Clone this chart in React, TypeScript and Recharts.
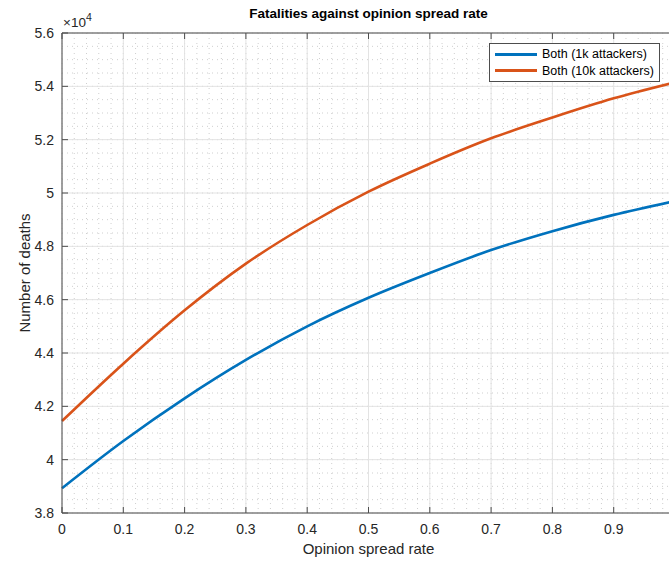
import React from "react";
import { LineChart, Line, XAxis, YAxis, CartesianGrid } from "recharts";

// opinion spread rate samples
const spreadRate = [0, 0.1, 0.2, 0.3, 0.4, 0.5, 0.6, 0.7, 0.8, 0.9, 1.0];
// number of deaths
const deaths1k = [38930, 40700, 42300, 43740, 45000, 46070, 47000, 47860, 48570, 49180, 49700];
const deaths10k = [41450, 43600, 45600, 47350, 48800, 50050, 51100, 52050, 52830, 53550, 54150];

const seriesNames = ["Both (1k attackers)", "Both (10k attackers)"];
const seriesColors = ["#0072BD", "#D95319"];

const xTicks = [0, 0.1, 0.2, 0.3, 0.4, 0.5, 0.6, 0.7, 0.8, 0.9, 1];
const yTicks = [38000, 40000, 42000, 44000, 46000, 48000, 50000, 52000, 54000, 56000];
const xMinorTicks = Array.from({ length: 51 }, (_, i) => Math.round(i * 2) / 100);
const yMinorTicks = Array.from({ length: 37 }, (_, i) => 38000 + i * 500);

const chartData = spreadRate.map((r, i) => ({
  rate: r,
  a: deaths1k[i],
  b: deaths10k[i],
}));

const FONT = "'Liberation Sans', Arial, Helvetica, sans-serif";
const AXIS = "#4d4d4d";
const TEXT = "#262626";
const TICK = 6;

function fmtY(v: number) {
  const s = (v / 10000).toFixed(1);
  return s.endsWith(".0") ? s.slice(0, -2) : s;
}

function BottomTick({ x, y, payload }: any) {
  // the label at 1 falls past the cropped right edge
  return (
    <g>
      <line x1={x} y1={y} x2={x} y2={y - TICK} stroke={AXIS} />
      {payload.value < 1 && (
        <text x={x} y={y + 21} textAnchor="middle" fontSize={14} fill={TEXT} fontFamily={FONT}>
          {String(payload.value)}
        </text>
      )}
    </g>
  );
}

function TopTick({ x, y }: any) {
  return <line x1={x} y1={y} x2={x} y2={y + TICK} stroke={AXIS} />;
}

function LeftTick({ x, y, payload }: any) {
  return (
    <g>
      <line x1={x} y1={y} x2={x + TICK} y2={y} stroke={AXIS} />
      <text x={x - 8} y={y + 5} textAnchor="end" fontSize={14} fill={TEXT} fontFamily={FONT}>
        {fmtY(payload.value)}
      </text>
    </g>
  );
}

function RightTick({ x, y }: any) {
  return <line x1={x} y1={y} x2={x - TICK} y2={y} stroke={AXIS} />;
}

function TitleLabel({ viewBox }: any) {
  const { x, y, width, height } = viewBox;
  return (
    <text x={x + width / 2} y={y + height - 15} textAnchor="middle" fontSize={13.5} fontWeight="bold" fill="#000" fontFamily={FONT}>
      Fatalities against opinion spread rate
    </text>
  );
}

function ExpLabel({ viewBox }: any) {
  const { x, width, y } = viewBox;
  return (
    <text x={x + width + 1} y={y - 6} fontSize={13.5} fill={TEXT} fontFamily={FONT}>
      ×10
      <tspan dy={-6} fontSize={10.5}>4</tspan>
    </text>
  );
}

function LegendBox() {
  return (
    <div
      style={{
        position: "absolute",
        left: 489,
        top: 43,
        width: 169,
        height: 35,
        border: `1px solid ${AXIS}`,
        background: "#fff",
        fontFamily: FONT,
        fontSize: 12.5,
        color: "#000",
        paddingTop: 2,
        boxSizing: "content-box",
      }}
    >
      {seriesNames.map((n, i) => (
        <div key={n} style={{ display: "flex", alignItems: "center", height: 16.5 }}>
          <div style={{ width: 42, height: 3, background: seriesColors[i], marginLeft: 5, marginRight: 5 }} />
          <span>{n}</span>
        </div>
      ))}
    </div>
  );
}

export default function App() {
  return (
    <div style={{ position: "absolute", left: 0, top: 0, width: 669, height: 562, overflow: "hidden", background: "#fff" }}>
      <LineChart width={700} height={562} data={chartData} margin={{ top: 0, right: 0, bottom: 0, left: 0 }}>
        {/* minor dotted grid, then the major grid on top */}
        <CartesianGrid stroke="#cfcfcf" strokeDasharray="1 4" horizontalValues={yMinorTicks} verticalValues={xMinorTicks} />
        <CartesianGrid stroke="#e3e3e3" />
        <XAxis
          dataKey="rate"
          type="number"
          domain={[0, 1]}
          ticks={xTicks}
          interval={0}
          height={49}
          tickSize={0}
          tickMargin={0}
          tickLine={false}
          stroke={AXIS}
          tick={<BottomTick />}
          label={{ value: "Opinion spread rate", position: "insideBottom", offset: 8, fontSize: 15, fill: TEXT, fontFamily: FONT }}
        />
        <XAxis
          xAxisId="top"
          orientation="top"
          dataKey="rate"
          type="number"
          domain={[0, 1]}
          ticks={xTicks}
          interval={0}
          height={33}
          tickSize={0}
          tickMargin={0}
          tickLine={false}
          stroke={AXIS}
          tick={<TopTick />}
          label={<TitleLabel />}
        />
        <YAxis
          type="number"
          domain={[38000, 56000]}
          ticks={yTicks}
          interval={0}
          width={62}
          tickSize={0}
          tickMargin={0}
          tickLine={false}
          stroke={AXIS}
          tick={<LeftTick />}
          label={<ExpLabel />}
        />
        <YAxis
          yAxisId="right"
          orientation="right"
          type="number"
          domain={[38000, 56000]}
          ticks={yTicks}
          interval={0}
          width={25}
          tickSize={0}
          tickMargin={0}
          tickLine={false}
          stroke={AXIS}
          tick={<RightTick />}
        />
        <Line dataKey="a" name={seriesNames[0]} type="monotone" stroke={seriesColors[0]} strokeWidth={2.6} dot={false} isAnimationActive={false} />
        <Line dataKey="b" name={seriesNames[1]} type="monotone" stroke={seriesColors[1]} strokeWidth={2.6} dot={false} isAnimationActive={false} />
      </LineChart>
      <div
        style={{
          position: "absolute",
          left: 24,
          top: 273,
          transform: "translate(-50%, -50%) rotate(-90deg)",
          whiteSpace: "nowrap",
          fontFamily: FONT,
          fontSize: 15,
          color: TEXT,
        }}
      >
        Number of deaths
      </div>
      <LegendBox />
    </div>
  );
}
